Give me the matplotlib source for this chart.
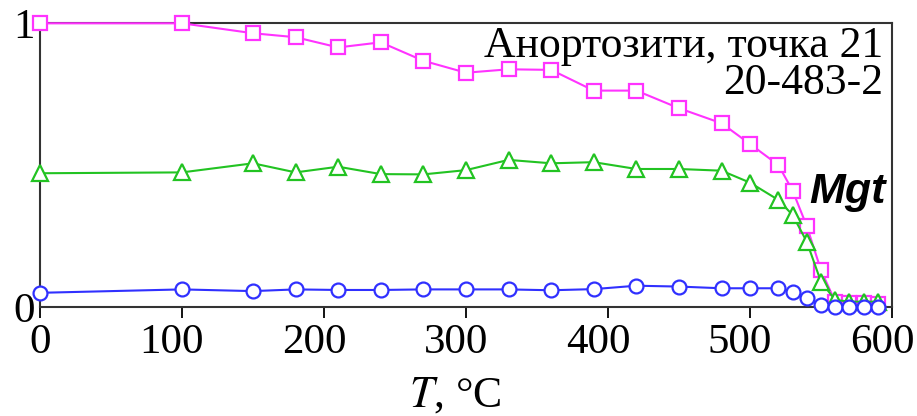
import matplotlib
matplotlib.use("Agg")
from matplotlib import pyplot as plt
import matplotlib.transforms as mtransforms

# температура, °C
T = [0, 100, 150, 180, 210, 240, 270, 300, 330, 360, 390, 420, 450,
     480, 500, 520, 530, 540, 550, 560, 570, 580, 590]

squares = [1.0, 1.0, 0.965, 0.951, 0.915, 0.933, 0.868, 0.826, 0.838, 0.836,
           0.763, 0.763, 0.701, 0.648, 0.575, 0.501, 0.411, 0.286, 0.131,
           0.02, 0.015, 0.015, 0.01]
triangles = [0.472, 0.475, 0.507, 0.475, 0.495, 0.469, 0.468, 0.483, 0.519,
             0.507, 0.511, 0.487, 0.487, 0.481, 0.439, 0.378, 0.325, 0.231,
             0.09, 0.026, 0.02, 0.02, 0.02]
circles = [0.051, 0.063, 0.057, 0.063, 0.061, 0.061, 0.063, 0.063, 0.063,
           0.060, 0.064, 0.076, 0.073, 0.067, 0.067, 0.067, 0.055, 0.032,
           0.008, 0.0, 0.0, 0.0, 0.0]

xticks = [0, 100, 200, 300, 400, 500, 600]
yticks = [0, 1]

plt.rcParams['font.family'] = ['Liberation Serif', 'DejaVu Serif']
plt.rcParams['mathtext.fontset'] = 'stix'

fig = plt.figure(figsize=(9.17, 4.16), dpi=100)
ax = fig.add_axes([0.0436, 0.2613, 0.9291, 0.6827])

ax.plot(T, squares, '-s', color='#ff33ff', lw=1.5, ms=10.5,
        mfc='white', mec='#ff33ff', mew=1.6, clip_on=False, zorder=3)
ax.plot(T, triangles, '-^', color='#22c322', lw=1.5, ms=11,
        mfc='white', mec='#22c322', mew=1.6, clip_on=False, zorder=4)
ax.plot(T, circles, '-o', color='#3030ff', lw=1.5, ms=10,
        mfc='white', mec='#3030ff', mew=1.6, clip_on=False, zorder=5)

ax.set_xlim(0, 600)
ax.set_ylim(0, 1)
ax.set_xticks(xticks)
ax.set_yticks(yticks)
ax.tick_params(axis='x', direction='out', length=8, width=1.3, labelsize=31, pad=4)
ax.tick_params(axis='y', length=0, labelsize=31, pad=4)
for s in ax.spines.values():
    s.set_linewidth(1.5)
    s.set_color('#333333')

# трицифрові підписи в оригіналі трохи зсунуті ліворуч
shift = mtransforms.ScaledTranslation(-10 / 100, 0, fig.dpi_scale_trans)
for tk, v in zip(ax.xaxis.get_major_ticks(), xticks):
    if v >= 100:
        tk.label1.set_transform(tk.label1.get_transform() + shift)

ax.set_xlabel('$T$, °C', fontsize=31.5)
ax.xaxis.set_label_coords(0.487, -0.242)

ax.text(0.99, 0.99, 'Анортозити, точка 21\n20-483-2', transform=ax.transAxes,
        ha='right', va='top', fontsize=31.5, linespacing=0.9)
ax.text(0.993, 0.405, 'Mgt', transform=ax.transAxes, ha='right', va='center',
        fontsize=31, fontweight='bold', fontstyle='italic',
        family=['Liberation Sans', 'DejaVu Sans'])

fig.savefig('out.png', dpi=100)
